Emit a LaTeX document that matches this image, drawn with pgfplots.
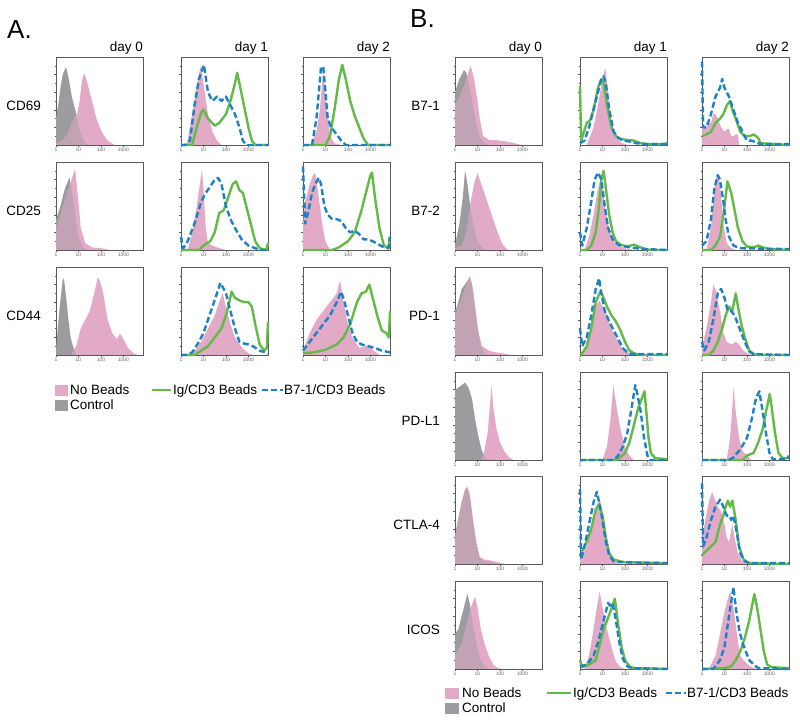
\documentclass[border=0pt]{standalone}
\usepackage{pgfplots}
\pgfplotsset{compat=1.18}
\usepackage{fontspec}
\setmainfont{Liberation Sans}
\definecolor{nbpink}{RGB}{226,170,198}
\definecolor{ctrlgray}{RGB}{155,155,160}
\definecolor{iggreen}{RGB}{98,187,70}
\definecolor{b7blue}{RGB}{28,130,200}
\definecolor{axgray}{RGB}{90,90,90}
\definecolor{labgray}{RGB}{100,100,100}
\pgfplotsset{
  hist/.style={
    scale only axis, width=87pt, height=88pt, anchor=north west,
    xmin=0, xmax=3.87, ymin=0, ymax=1, clip=false,
    axis line style={draw=axgray, line width=0.6pt},
    xtick={0,1,2,3}, xticklabels={1,10,100,1000},
    minor xtick={0.301,0.477,0.602,0.699,0.778,0.845,0.903,0.954,
      1.301,1.477,1.602,1.699,1.778,1.845,1.903,1.954,
      2.301,2.477,2.602,2.699,2.778,2.845,2.903,2.954,
      3.301,3.477,3.602,3.699,3.778,3.845},
    ytick={0.2,0.4,0.6,0.8}, yticklabels={},
    minor ytick={0.1,0.3,0.5,0.7,0.9},
    xtick pos=bottom, ytick pos=left, tick align=outside,
    major tick length=1.8pt, minor tick length=1pt,
    tick style={draw=axgray, line width=0.4pt},
    xticklabel style={font=\fontsize{5}{6}\selectfont, text=labgray, inner sep=1pt},
  },
  igline/.style={draw=iggreen, line width=2.4pt, mark=none, line join=round},
  b7line/.style={draw=b7blue, line width=2.4pt, mark=none, dash pattern=on 6pt off 3pt, line join=round},
}
\newcommand{\dayzero}[4]{%
  \begin{axis}[hist, at={(#1pt,#2pt)}]
  \addplot[draw=none, fill=ctrlgray, mark=none] coordinates {#3} \closedcycle;
  \addplot[draw=none, fill=nbpink, mark=none] coordinates {#4} \closedcycle;
  \addplot[draw=none, fill=ctrlgray, fill opacity=0.45, mark=none] coordinates {#3} \closedcycle;
  \end{axis}}
\newcommand{\dayn}[5]{%
  \begin{axis}[hist, at={(#1pt,#2pt)}]
  \addplot[draw=none, fill=nbpink, mark=none] coordinates {#3} \closedcycle;
  \addplot[igline] coordinates {#4};
  \addplot[b7line] coordinates {#5};
  \end{axis}}
\newcommand{\lab}{\fontsize{13.5}{16}\selectfont}
\begin{document}
\begin{tikzpicture}
\path[use as bounding box] (0pt,0pt) rectangle (800pt,722pt);
% ---------------- Panel A ----------------
\node[anchor=base west, font=\fontsize{26}{30}\selectfont, inner sep=0pt] at (7pt,683pt) {A.};
\node[anchor=base east, font=\lab, inner sep=0pt] at (143pt,670pt) {day 0};
\node[anchor=base east, font=\lab, inner sep=0pt] at (268pt,670pt) {day 1};
\node[anchor=base east, font=\lab, inner sep=0pt] at (390pt,670pt) {day 2};
\node[anchor=east, font=\lab, inner sep=0pt] at (41pt,616pt) {CD69};
\node[anchor=east, font=\lab, inner sep=0pt] at (41pt,511pt) {CD25};
\node[anchor=east, font=\lab, inner sep=0pt] at (41pt,406pt) {CD44};
% CD69
\dayzero{56}{665}
 {(0,0.30)(0.1,0.45)(0.2,0.65)(0.3,0.8)(0.4,0.86)(0.45,0.88)(0.5,0.83)(0.6,0.7)(0.7,0.55)(0.8,0.45)(0.9,0.35)(1.0,0.22)(1.1,0.13)(1.2,0.07)(1.3,0.03)(1.45,0)}
 {(0,0.02)(0.3,0.06)(0.5,0.12)(0.7,0.25)(0.85,0.33)(0.95,0.36)(1.05,0.5)(1.15,0.72)(1.25,0.82)(1.35,0.75)(1.5,0.6)(1.65,0.45)(1.8,0.3)(1.95,0.2)(2.1,0.12)(2.3,0.05)(2.6,0)}
\dayn{181}{665}
 {(0.25,0)(0.5,0.35)(0.75,0.75)(0.88,0.9)(1.0,0.7)(1.2,0.35)(1.4,0.15)(1.6,0.05)(1.8,0)}
 {(0,0)(0.5,0)(0.7,0.2)(0.9,0.37)(1.0,0.4)(1.2,0.3)(1.5,0.22)(1.7,0.25)(2.0,0.35)(2.2,0.5)(2.4,0.7)(2.5,0.82)(2.6,0.7)(2.8,0.45)(3.0,0.2)(3.15,0.05)(3.3,0)(3.87,0)}
 {(0,0)(0.2,0)(0.4,0.05)(0.6,0.45)(0.8,0.75)(1.02,0.91)(1.2,0.6)(1.4,0.5)(1.6,0.55)(1.8,0.5)(2.0,0.55)(2.2,0.45)(2.4,0.35)(2.6,0.2)(2.75,0.05)(2.9,0)(3.87,0)}
\dayn{303}{665}
 {(0.35,0)(0.6,0.15)(0.75,0.4)(0.9,0.85)(1.05,0.45)(1.2,0.1)(1.4,0.02)(1.7,0)}
 {(0,0)(1.0,0)(1.2,0.1)(1.4,0.4)(1.6,0.75)(1.75,0.91)(1.9,0.75)(2.1,0.5)(2.3,0.33)(2.5,0.2)(2.7,0.07)(2.9,0)(3.87,0)}
 {(0,0)(0.4,0)(0.6,0.3)(0.8,0.88)(0.9,0.89)(1.0,0.6)(1.1,0.3)(1.25,0.2)(1.5,0.12)(1.7,0.05)(1.9,0)(3.87,0)}
% CD25
\dayzero{56}{560}
 {(0,0.34)(0.2,0.5)(0.4,0.7)(0.6,0.82)(0.75,0.6)(0.9,0.3)(1.0,0.15)(1.2,0.03)(1.4,0)}
 {(0,0.25)(0.2,0.4)(0.4,0.58)(0.6,0.72)(0.75,0.85)(0.85,0.92)(1.0,0.55)(1.1,0.25)(1.3,0.08)(1.6,0.03)(2.0,0.02)(2.4,0)}
\dayn{181}{560}
 {(0.3,0)(0.5,0.2)(0.7,0.5)(0.93,0.91)(1.0,0.7)(1.1,0.25)(1.2,0.08)(1.4,0.05)(1.6,0.03)(2.0,0)}
 {(0,0)(0.8,0)(1.0,0.05)(1.3,0.1)(1.5,0.2)(1.7,0.42)(1.9,0.45)(2.1,0.6)(2.3,0.75)(2.45,0.78)(2.6,0.68)(2.75,0.65)(2.9,0.5)(3.1,0.3)(3.3,0.1)(3.5,0.02)(3.8,0)(3.87,0.08)}
 {(0,0.15)(0.1,0.02)(0.3,0.1)(0.6,0.3)(0.9,0.55)(1.1,0.65)(1.3,0.72)(1.5,0.8)(1.65,0.82)(1.8,0.75)(2.0,0.5)(2.2,0.35)(2.4,0.25)(2.7,0.12)(3.0,0.05)(3.3,0.02)(3.6,0)(3.87,0)}
\dayn{303}{560}
 {(0,0.3)(0.1,0.55)(0.3,0.75)(0.45,0.85)(0.55,0.88)(0.7,0.6)(0.85,0.3)(1.0,0.1)(1.2,0)}
 {(0,0)(1.3,0)(1.6,0.03)(2.0,0.1)(2.3,0.2)(2.6,0.45)(2.8,0.65)(3.0,0.85)(3.07,0.88)(3.2,0.6)(3.4,0.25)(3.6,0.05)(3.8,0.02)(3.87,0.15)}
 {(0,0.95)(0.1,0.3)(0.25,0.45)(0.4,0.65)(0.55,0.75)(0.7,0.82)(0.8,0.75)(0.95,0.5)(1.1,0.4)(1.3,0.35)(1.5,0.35)(1.7,0.33)(1.9,0.25)(2.1,0.2)(2.3,0.22)(2.5,0.18)(2.7,0.12)(2.9,0.12)(3.1,0.1)(3.3,0.07)(3.6,0.03)(3.8,0.02)(3.87,0.15)}
% CD44
\dayzero{56}{455}
 {(0,0.05)(0.15,0.5)(0.3,0.85)(0.35,0.87)(0.45,0.65)(0.55,0.4)(0.65,0.2)(0.75,0.1)(0.9,0)}
 {(0.7,0.02)(0.9,0.1)(1.1,0.3)(1.3,0.4)(1.5,0.5)(1.7,0.7)(1.85,0.88)(1.95,0.85)(2.1,0.7)(2.3,0.4)(2.5,0.25)(2.7,0.18)(2.85,0.24)(3.0,0.18)(3.2,0.08)(3.4,0.03)(3.6,0)}
\dayn{181}{455}
 {(0.3,0)(0.6,0.05)(0.9,0.15)(1.2,0.3)(1.5,0.45)(1.7,0.6)(1.85,0.7)(2.0,0.55)(2.2,0.35)(2.4,0.2)(2.6,0.12)(2.8,0.06)(3.0,0.02)(3.2,0)}
 {(0,0)(0.6,0)(0.9,0.05)(1.2,0.1)(1.5,0.2)(1.8,0.3)(2.0,0.45)(2.15,0.6)(2.25,0.72)(2.4,0.65)(2.6,0.62)(2.8,0.6)(3.0,0.6)(3.15,0.55)(3.3,0.35)(3.5,0.12)(3.7,0.05)(3.82,0.08)(3.87,0.38)}
 {(0,0)(0.2,0)(0.5,0.03)(0.8,0.15)(1.0,0.25)(1.2,0.4)(1.4,0.55)(1.6,0.7)(1.75,0.82)(1.9,0.75)(2.0,0.7)(2.2,0.5)(2.4,0.3)(2.6,0.15)(2.8,0.13)(3.0,0.12)(3.2,0.1)(3.5,0.05)(3.87,0.02)}
\dayn{303}{455}
 {(0,0.05)(0.3,0.25)(0.6,0.4)(0.9,0.5)(1.2,0.6)(1.5,0.7)(1.65,0.85)(1.8,0.6)(2.0,0.35)(2.2,0.2)(2.5,0.08)(2.8,0.1)(2.95,0.12)(3.1,0.06)(3.4,0)}
 {(0,0.02)(0.5,0.03)(1.0,0.06)(1.5,0.12)(1.8,0.2)(2.1,0.35)(2.4,0.6)(2.6,0.7)(2.8,0.72)(2.95,0.8)(3.1,0.65)(3.3,0.45)(3.5,0.28)(3.7,0.25)(3.82,0.2)(3.87,0.5)}
 {(0,0.05)(0.3,0.15)(0.6,0.25)(0.9,0.35)(1.2,0.45)(1.5,0.6)(1.7,0.72)(1.85,0.6)(2.0,0.45)(2.2,0.25)(2.4,0.15)(2.6,0.12)(2.9,0.1)(3.2,0.08)(3.5,0.05)(3.87,0.03)}
% Legend A
\fill[nbpink] (55pt,326pt) rectangle (68pt,337pt);
\fill[ctrlgray] (55pt,311pt) rectangle (68pt,322pt);
\node[anchor=base west, font=\lab, inner sep=0pt] at (70pt,327pt) {No Beads};
\node[anchor=base west, font=\lab, inner sep=0pt] at (70pt,312pt) {Control};
\draw[iggreen, line width=2.4pt] (152pt,332pt) -- (171pt,332pt);
\node[anchor=base west, font=\lab, inner sep=0pt] at (173pt,327pt) {Ig/CD3 Beads};
\draw[b7blue, line width=2.4pt, dash pattern=on 6pt off 3pt] (262pt,332pt) -- (283pt,332pt);
\node[anchor=base west, font=\lab, inner sep=0pt] at (284pt,327pt) {B7-1/CD3 Beads};
% ---------------- Panel B ----------------
\node[anchor=base west, font=\fontsize{26}{30}\selectfont, inner sep=0pt] at (410pt,694pt) {B.};
\node[anchor=base east, font=\lab, inner sep=0pt] at (542pt,670pt) {day 0};
\node[anchor=base east, font=\lab, inner sep=0pt] at (667pt,670pt) {day 1};
\node[anchor=base east, font=\lab, inner sep=0pt] at (789pt,670pt) {day 2};
\node[anchor=east, font=\lab, inner sep=0pt] at (440pt,616pt) {B7-1};
\node[anchor=east, font=\lab, inner sep=0pt] at (440pt,511pt) {B7-2};
\node[anchor=east, font=\lab, inner sep=0pt] at (440pt,406pt) {PD-1};
\node[anchor=east, font=\lab, inner sep=0pt] at (440pt,301pt) {PD-L1};
\node[anchor=east, font=\lab, inner sep=0pt] at (440pt,197pt) {CTLA-4};
\node[anchor=east, font=\lab, inner sep=0pt] at (440pt,92pt) {ICOS};
% B7-1
\dayzero{455}{665}
 {(0,0.6)(0.2,0.75)(0.4,0.85)(0.5,0.82)(0.7,0.6)(0.9,0.3)(1.1,0.1)(1.3,0.02)(1.5,0)}
 {(0,0.45)(0.3,0.6)(0.5,0.75)(0.7,0.9)(0.85,0.75)(1.0,0.5)(1.1,0.3)(1.25,0.1)(1.5,0.06)(2.0,0.05)(2.5,0.03)(2.8,0.01)(3.0,0)}
\dayn{580}{665}
 {(0.3,0)(0.6,0.2)(0.8,0.45)(1.0,0.75)(1.12,0.88)(1.25,0.6)(1.4,0.25)(1.6,0.08)(1.8,0.03)(2.1,0)}
 {(0,0.67)(0.05,0.05)(0.3,0.25)(0.45,0.28)(0.6,0.4)(0.8,0.65)(0.95,0.75)(1.05,0.7)(1.2,0.45)(1.4,0.2)(1.6,0.1)(1.8,0.07)(2.0,0.06)(2.4,0.05)(2.7,0.02)(3.0,0.01)(3.8,0.01)(3.87,0.03)}
 {(0,0.02)(0.2,0.05)(0.4,0.2)(0.6,0.4)(0.8,0.6)(0.95,0.75)(1.05,0.78)(1.15,0.7)(1.3,0.4)(1.5,0.15)(1.7,0.08)(1.9,0.05)(2.2,0.04)(2.5,0.02)(3.0,0.01)(3.87,0.01)}
\dayn{702}{665}
 {(0,0.2)(0.2,0.2)(0.3,0.25)(0.4,0.25)(0.5,0.35)(0.6,0.35)(0.7,0.3)(0.85,0.2)(1.0,0.15)(1.1,0.18)(1.2,0.18)(1.3,0.1)(1.4,0.1)(1.5,0.12)(1.6,0.12)(1.65,0)}
 {(0,0.1)(0.2,0.12)(0.4,0.15)(0.6,0.25)(0.8,0.3)(0.95,0.35)(1.1,0.45)(1.25,0.5)(1.35,0.4)(1.5,0.3)(1.7,0.15)(1.9,0.1)(2.1,0.1)(2.3,0.12)(2.5,0.08)(2.6,0.02)(3.87,0)}
 {(0,0.95)(0.05,0.2)(0.2,0.2)(0.4,0.35)(0.6,0.55)(0.8,0.65)(0.9,0.75)(1.0,0.65)(1.2,0.55)(1.4,0.4)(1.6,0.25)(1.8,0.15)(2.0,0.05)(2.2,0.05)(2.4,0.03)(2.6,0.01)(3.87,0.01)}
% B7-2
\dayzero{455}{560}
 {(0,0.05)(0.2,0.3)(0.35,0.6)(0.45,0.9)(0.55,0.75)(0.7,0.45)(0.85,0.25)(1.0,0.1)(1.2,0.03)(1.4,0)}
 {(0,0.02)(0.3,0.05)(0.5,0.2)(0.7,0.55)(0.85,0.75)(1.0,0.88)(1.1,0.8)(1.3,0.65)(1.5,0.5)(1.7,0.35)(1.9,0.2)(2.1,0.07)(2.3,0.01)(2.4,0)}
\dayn{580}{560}
 {(0.2,0)(0.4,0.15)(0.6,0.4)(0.8,0.7)(0.9,0.8)(1.0,0.75)(1.1,0.5)(1.25,0.3)(1.4,0.15)(1.6,0.06)(2.0,0.02)(2.4,0)}
 {(0,0)(0.3,0)(0.5,0.05)(0.7,0.2)(0.85,0.5)(0.95,0.8)(1.05,0.9)(1.15,0.7)(1.3,0.4)(1.45,0.2)(1.6,0.1)(1.8,0.06)(2.1,0.04)(2.4,0.06)(2.6,0.04)(2.9,0.01)(3.2,0)(3.87,0)}
 {(0,0.2)(0.1,0.05)(0.3,0.25)(0.5,0.55)(0.65,0.8)(0.8,0.88)(0.95,0.8)(1.1,0.5)(1.25,0.25)(1.45,0.12)(1.7,0.06)(2.0,0.04)(2.5,0.02)(3.0,0.01)(3.87,0)}
\dayn{702}{560}
 {(0.2,0)(0.4,0.25)(0.55,0.7)(0.67,0.88)(0.8,0.75)(0.95,0.3)(1.1,0.08)(1.3,0.02)(1.5,0)}
 {(0,0)(0.4,0)(0.6,0.05)(0.8,0.15)(0.95,0.4)(1.05,0.6)(1.13,0.78)(1.3,0.65)(1.45,0.45)(1.6,0.25)(1.8,0.1)(2.0,0.04)(2.3,0.03)(2.5,0.05)(2.7,0.03)(3.0,0.01)(3.87,0)}
 {(0,0.05)(0.2,0.1)(0.4,0.35)(0.55,0.7)(0.7,0.85)(0.8,0.8)(0.95,0.55)(1.05,0.35)(1.2,0.15)(1.4,0.05)(1.7,0.02)(3.87,0.01)}
% PD-1
\dayzero{455}{455}
 {(0,0.5)(0.1,0.55)(0.15,0.6)(0.3,0.75)(0.5,0.82)(0.65,0.88)(0.75,0.8)(0.9,0.5)(1.0,0.3)(1.15,0.1)(1.3,0.02)(1.5,0)}
 {(0,0.45)(0.3,0.65)(0.5,0.8)(0.67,0.9)(0.8,0.75)(0.95,0.45)(1.05,0.25)(1.2,0.1)(1.5,0.05)(1.8,0.03)(2.1,0.02)(2.3,0.01)(2.5,0)}
\dayn{580}{455}
 {(0.1,0.02)(0.3,0.1)(0.5,0.3)(0.7,0.55)(0.85,0.62)(1.0,0.55)(1.2,0.45)(1.4,0.3)(1.6,0.2)(1.8,0.1)(2.0,0.05)(2.3,0.01)(2.5,0)}
 {(0,0)(0.1,0.02)(0.3,0.1)(0.5,0.3)(0.7,0.6)(0.9,0.72)(1.0,0.68)(1.2,0.55)(1.4,0.45)(1.6,0.38)(1.8,0.28)(2.0,0.15)(2.2,0.05)(2.4,0.02)(2.7,0)(3.87,0)}
 {(0,0.3)(0.1,0.1)(0.3,0.2)(0.5,0.45)(0.7,0.75)(0.85,0.87)(0.95,0.7)(1.1,0.5)(1.3,0.38)(1.5,0.28)(1.7,0.18)(1.9,0.08)(2.1,0.03)(2.3,0.01)(3.87,0.01)}
\dayn{702}{455}
 {(0,0.1)(0.2,0.3)(0.4,0.6)(0.5,0.8)(0.6,0.75)(0.8,0.5)(0.95,0.25)(1.1,0.15)(1.3,0.12)(1.5,0.15)(1.65,0.12)(1.8,0.06)(2.0,0.02)(2.2,0)}
 {(0,0)(0.3,0)(0.5,0.05)(0.7,0.15)(0.9,0.3)(1.05,0.45)(1.2,0.55)(1.35,0.5)(1.5,0.7)(1.6,0.55)(1.75,0.35)(1.9,0.2)(2.1,0.05)(2.3,0.01)(2.5,0)(3.87,0)}
 {(0,0.15)(0.1,0.05)(0.3,0.15)(0.5,0.4)(0.7,0.7)(0.85,0.75)(1.0,0.65)(1.15,0.5)(1.3,0.5)(1.45,0.45)(1.6,0.35)(1.75,0.25)(1.9,0.15)(2.1,0.04)(2.3,0.01)(3.87,0)}
% PD-L1
\dayzero{455}{350}
 {(0,0.8)(0.15,0.82)(0.3,0.85)(0.45,0.88)(0.6,0.82)(0.75,0.7)(0.9,0.45)(1.05,0.25)(1.2,0.1)(1.35,0.02)(1.45,0)}
 {(1.15,0)(1.3,0.1)(1.45,0.3)(1.55,0.6)(1.63,0.85)(1.7,0.6)(1.85,0.35)(2.0,0.2)(2.2,0.1)(2.4,0.03)(2.6,0)}
\dayn{580}{350}
 {(1.0,0)(1.2,0.15)(1.35,0.45)(1.48,0.85)(1.6,0.65)(1.8,0.35)(2.0,0.15)(2.2,0.05)(2.4,0)}
 {(0,0)(1.6,0)(1.8,0.03)(2.0,0.08)(2.2,0.2)(2.4,0.4)(2.6,0.6)(2.75,0.7)(2.87,0.78)(2.95,0.55)(3.05,0.25)(3.15,0.08)(3.35,0.02)(3.87,0.01)}
 {(0,0)(1.5,0)(1.7,0.05)(1.9,0.15)(2.1,0.3)(2.3,0.6)(2.46,0.85)(2.55,0.75)(2.7,0.55)(2.85,0.25)(3.0,0.05)(3.1,0)(3.87,0)}
\dayn{702}{350}
 {(1.1,0)(1.25,0.25)(1.35,0.6)(1.4,0.83)(1.5,0.55)(1.65,0.25)(1.8,0.1)(2.0,0.05)(2.2,0)}
 {(0,0)(1.8,0)(2.0,0.05)(2.3,0.08)(2.5,0.2)(2.7,0.35)(2.85,0.55)(3.01,0.75)(3.1,0.6)(3.25,0.3)(3.4,0.08)(3.6,0.02)(3.8,0.02)(3.87,0.03)}
 {(0,0)(1.2,0)(1.4,0.03)(1.7,0.12)(2.0,0.25)(2.2,0.45)(2.4,0.7)(2.55,0.78)(2.7,0.55)(2.85,0.3)(3.0,0.08)(3.15,0.01)(3.8,0.01)(3.87,0.05)}
% CTLA-4
\dayzero{455}{246}
 {(0,0.3)(0.1,0.45)(0.3,0.7)(0.45,0.84)(0.55,0.86)(0.65,0.78)(0.8,0.48)(0.95,0.22)(1.1,0.07)(1.3,0.03)(1.6,0.02)(1.9,0)}
 {(0,0.3)(0.1,0.45)(0.3,0.7)(0.45,0.85)(0.55,0.88)(0.65,0.8)(0.8,0.5)(0.95,0.25)(1.1,0.08)(1.3,0.05)(1.6,0.04)(1.9,0.02)(2.2,0)}
\dayn{580}{246}
 {(0,0.05)(0.3,0.2)(0.6,0.5)(0.8,0.7)(0.9,0.72)(1.0,0.6)(1.15,0.35)(1.3,0.15)(1.5,0.05)(1.7,0)}
 {(0,0.1)(0.1,0.15)(0.3,0.25)(0.5,0.4)(0.7,0.62)(0.85,0.68)(1.0,0.55)(1.15,0.3)(1.3,0.12)(1.5,0.05)(1.8,0.03)(2.0,0.02)(3.87,0.01)}
 {(0,0.85)(0.05,0.05)(0.2,0.2)(0.4,0.45)(0.6,0.7)(0.75,0.82)(0.85,0.7)(1.0,0.5)(1.15,0.25)(1.3,0.1)(1.5,0.03)(1.8,0.02)(3.87,0.01)}
\dayn{702}{246}
 {(0,0.3)(0.15,0.5)(0.3,0.7)(0.45,0.82)(0.55,0.75)(0.7,0.65)(0.85,0.6)(1.0,0.45)(1.1,0.3)(1.2,0.25)(1.35,0.45)(1.45,0.3)(1.6,0.12)(1.8,0.03)(2.0,0)}
 {(0,0.1)(0.2,0.15)(0.4,0.2)(0.6,0.25)(0.8,0.45)(0.95,0.55)(1.05,0.65)(1.15,0.72)(1.25,0.65)(1.35,0.72)(1.5,0.5)(1.65,0.2)(1.85,0.05)(2.1,0.01)(3.87,0)}
 {(0,0.92)(0.05,0.2)(0.2,0.3)(0.4,0.5)(0.6,0.65)(0.8,0.73)(0.95,0.65)(1.1,0.55)(1.2,0.55)(1.3,0.5)(1.4,0.55)(1.55,0.35)(1.7,0.12)(1.9,0.03)(2.1,0.01)(3.87,0.01)}
% ICOS
\dayzero{455}{141}
 {(0,0.4)(0.15,0.45)(0.3,0.6)(0.45,0.75)(0.55,0.85)(0.65,0.75)(0.8,0.5)(0.95,0.3)(1.1,0.12)(1.3,0.03)(1.5,0)}
 {(0,0.15)(0.3,0.3)(0.5,0.5)(0.7,0.7)(0.89,0.82)(1.0,0.7)(1.15,0.45)(1.3,0.3)(1.5,0.15)(1.7,0.05)(1.9,0.01)(2.1,0)}
\dayn{580}{141}
 {(0.2,0.02)(0.4,0.15)(0.6,0.45)(0.75,0.7)(0.87,0.88)(1.0,0.7)(1.15,0.5)(1.3,0.35)(1.45,0.2)(1.6,0.08)(1.8,0.02)(2.0,0)}
 {(0,0.1)(0.1,0.02)(0.4,0.05)(0.7,0.1)(0.9,0.3)(1.05,0.45)(1.2,0.55)(1.35,0.65)(1.55,0.8)(1.7,0.5)(1.85,0.25)(2.0,0.1)(2.2,0.03)(2.4,0.01)(3.87,0)}
 {(0,0.03)(0.3,0.05)(0.6,0.15)(0.8,0.3)(1.0,0.5)(1.15,0.65)(1.25,0.75)(1.33,0.72)(1.45,0.75)(1.6,0.55)(1.75,0.3)(1.9,0.12)(2.1,0.03)(2.3,0.01)(3.87,0)}
\dayn{702}{141}
 {(0.3,0)(0.6,0.15)(0.8,0.4)(1.0,0.65)(1.15,0.8)(1.26,0.88)(1.4,0.7)(1.55,0.4)(1.7,0.15)(1.85,0.1)(2.0,0.06)(2.2,0.02)(2.4,0)}
 {(0,0)(1.0,0.01)(1.3,0.03)(1.5,0.1)(1.7,0.2)(1.9,0.35)(2.1,0.55)(2.25,0.75)(2.33,0.85)(2.45,0.7)(2.6,0.45)(2.75,0.2)(2.9,0.05)(3.1,0.02)(3.87,0.01)}
 {(0,0)(0.5,0)(0.8,0.1)(1.0,0.25)(1.2,0.6)(1.4,0.93)(1.5,0.7)(1.65,0.45)(1.8,0.3)(1.95,0.2)(2.1,0.1)(2.3,0.05)(2.5,0.01)(3.87,0)}
% Legend B
\fill[nbpink] (445pt,23pt) rectangle (459pt,34pt);
\fill[ctrlgray] (445pt,8pt) rectangle (459pt,19pt);
\node[anchor=base west, font=\lab, inner sep=0pt] at (462pt,24pt) {No Beads};
\node[anchor=base west, font=\lab, inner sep=0pt] at (462pt,9pt) {Control};
\draw[iggreen, line width=2.4pt] (547pt,29pt) -- (571pt,29pt);
\node[anchor=base west, font=\lab, inner sep=0pt] at (573pt,24pt) {Ig/CD3 Beads};
\draw[b7blue, line width=2.4pt, dash pattern=on 6pt off 3pt] (666pt,29pt) -- (686pt,29pt);
\node[anchor=base west, font=\lab, inner sep=0pt] at (687pt,24pt) {B7-1/CD3 Beads};
\end{tikzpicture}
\end{document}
